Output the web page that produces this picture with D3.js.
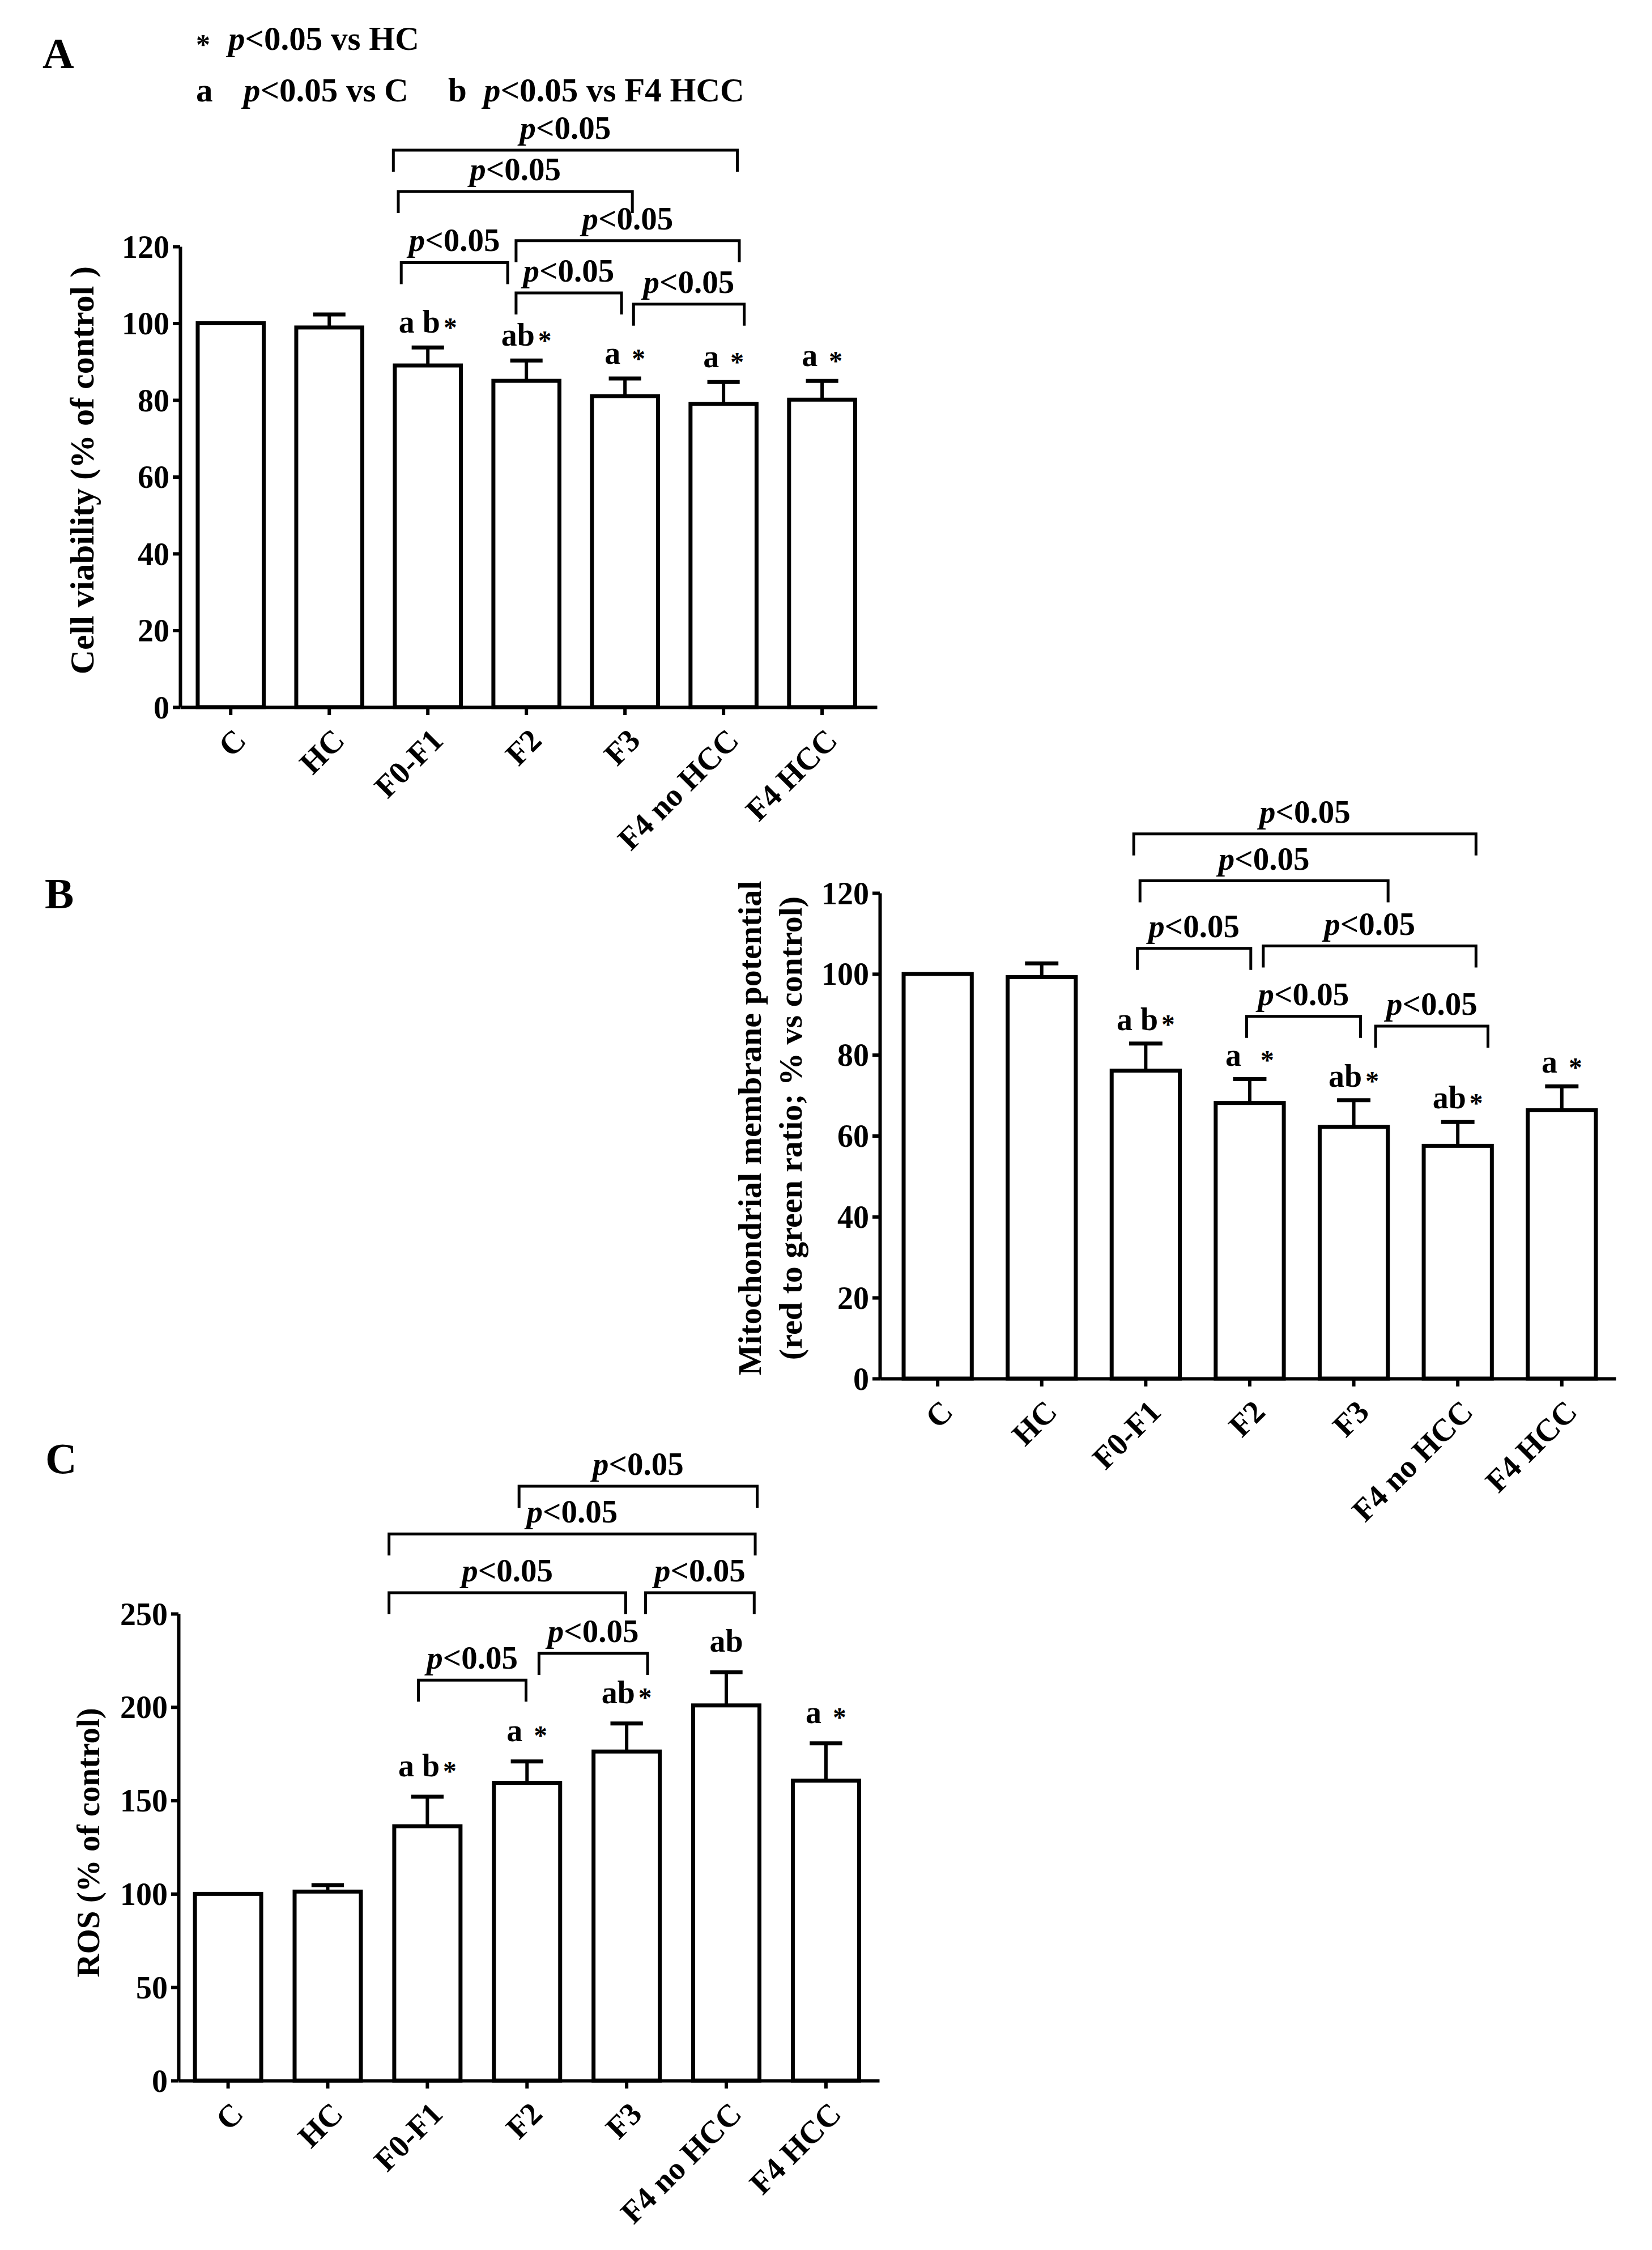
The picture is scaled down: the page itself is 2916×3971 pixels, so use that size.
<!DOCTYPE html>
<html>
<head>
<meta charset="utf-8">
<script src="https://cdn.jsdelivr.net/npm/d3@7"></script>
<style>
  body { margin: 0; background: #fff; }
  text { font-family: "Liberation Serif", "Times New Roman", serif; font-weight: bold; fill: #000; }
</style>
</head>
<body>
<div id="chart"></div>
<script>
// ---------------- data ----------------
const groups = ["C", "HC", "F0-F1", "F2", "F3", "F4 no HCC", "F4 HCC"];

// A: cell viability (% of control)
const viability    = [100, 98.9, 89.0, 85.0, 81.0, 79.0, 80.1];
const viabilityErr = [0, 3.4, 4.7, 5.3, 4.6, 5.7, 4.9];
const viabilityMarks = ["", "", "a b*", "ab*", "a *", "a *", "a *"];

// B: mitochondrial membrane potential
const mmp    = [100, 99.2, 76.1, 68.1, 62.2, 57.5, 66.3];
const mmpErr = [0, 3.4, 6.7, 5.9, 6.6, 5.9, 5.9];
const mmpMarks = ["", "", "a b*", "a  *", "ab*", "ab*", "a *"];

// C: ROS (% of control)
const ros    = [100, 101.2, 136.2, 159.4, 176.2, 200.9, 160.6];
const rosErr = [0, 3.5, 15.8, 11.5, 15.0, 17.7, 20.0];
const rosMarks = ["", "", "a b*", "a *", "ab*", "ab", "a *"];

// significance brackets: [from, to, level (axis units), nudge from / to (fraction of step)]
const viabilityBrackets = [
  ["F0-F1", "F4 no HCC", 145.1, -0.35, 0.14],
  ["F0-F1", "F3", 134.3, -0.30, 0.075],
  ["F2", "F4 no HCC", 121.5, -0.105, 0.16],
  ["F0-F1", "F2", 115.8, -0.27, -0.19],
  ["F2", "F3", 107.9, -0.105, -0.035],
  ["F3", "F4 no HCC", 105.0, 0.087, 0.21]
];
const mmpBrackets = [
  ["F0-F1", "F4 no HCC", 134.6, -0.115, 0.175],
  ["F0-F1", "F3", 123.0, -0.055, 0.33],
  ["F0-F1", "F2", 106.3, -0.08, 0.01],
  ["F2", "F4 no HCC", 106.9, 0.13, 0.175],
  ["F2", "F3", 89.5, -0.03, 0.065],
  ["F3", "F4 no HCC", 87.1, 0.21, 0.29]
];
const rosBrackets = [
  ["F2", "F4 no HCC", 318.3, -0.08, 0.31],
  ["F0-F1", "F4 no HCC", 292.7, -0.385, 0.29],
  ["F0-F1", "F3", 261.2, -0.385, -0.01],
  ["F3", "F4 no HCC", 261.2, 0.19, 0.28],
  ["F2", "F3", 228.8, 0.12, 0.21],
  ["F0-F1", "F2", 214.4, -0.09, -0.01]
];

const viabilityTicks = [0, 20, 40, 60, 80, 100, 120];
const mmpTicks = [0, 20, 40, 60, 80, 100, 120];
const rosTicks = [0, 50, 100, 150, 200, 250];

// ---------------- drawing ----------------
const W = 2916, H = 3971;
const svg = d3.select("#chart").append("svg")
  .attr("width", W)
  .attr("height", H)
  .attr("viewBox", [0, 0, W, H]);

svg.append("rect").attr("width", W).attr("height", H).attr("fill", "#fff");

// put a "p" in italics and the rest upright
function pText(sel, rest) {
  sel.append("tspan").attr("font-style", "italic").text("p");
  sel.append("tspan").text(rest);
}

// letters with a small lowered asterisk
function markText(sel, str) {
  const parts = str.split("*");
  sel.append("tspan").attr("xml:space", "preserve").text(parts[0]);
  if (parts.length > 1) {
    sel.append("tspan").attr("font-size", "0.85em").attr("dx", 6).attr("dy", "0.14em").text("*");
  }
}

function drawPanel(p) {
  const g = svg.append("g");

  const x = d3.scaleBand()
    .domain(groups)
    .range([p.left, p.right])
    .paddingInner(p.inner)
    .paddingOuter(p.outer)
    .align(p.align);

  const y = d3.scaleLinear()
    .domain([0, p.ticks[p.ticks.length - 1]])
    .range([p.bottom, p.top]);

  const bw = x.bandwidth();
  const cx = d => x(d) + bw / 2;

  // y axis
  const yAxis = g.append("g")
    .attr("transform", `translate(${p.left},0)`)
    .call(d3.axisLeft(y).tickValues(p.ticks).tickSize(13).tickSizeOuter(0).tickPadding(6));
  yAxis.attr("font-family", null);
  yAxis.select(".domain").attr("stroke-width", 6);
  yAxis.selectAll(".tick line").attr("stroke-width", 6);
  yAxis.selectAll(".tick text").attr("font-size", 56).attr("dy", "0.34em");

  // x axis
  const xAxis = g.append("g")
    .attr("transform", `translate(0,${p.bottom})`)
    .call(d3.axisBottom(x).tickSize(14).tickSizeOuter(0));
  xAxis.attr("font-family", null);
  xAxis.select(".domain").attr("stroke-width", 6);
  xAxis.selectAll(".tick line").attr("stroke-width", 6);
  xAxis.selectAll(".tick text")
    .attr("font-size", 56)
    .attr("y", null)
    .attr("dy", null)
    .attr("text-anchor", "end")
    .attr("transform", "translate(30,62) rotate(-45)");

  // bars
  g.append("g").selectAll("rect")
    .data(groups)
    .join("rect")
    .attr("x", d => x(d))
    .attr("y", (d, i) => y(p.values[i]))
    .attr("width", bw)
    .attr("height", (d, i) => y(0) - y(p.values[i]))
    .attr("fill", "#fff")
    .attr("stroke", "#000")
    .attr("stroke-width", 7);

  // error bars (upper only)
  const err = g.append("g").attr("stroke", "#000");
  groups.forEach((d, i) => {
    if (!p.errors[i]) return;
    const top = y(p.values[i] + p.errors[i]);
    err.append("line")
      .attr("x1", cx(d)).attr("x2", cx(d))
      .attr("y1", y(p.values[i])).attr("y2", top)
      .attr("stroke-width", 6);
    err.append("line")
      .attr("x1", cx(d) - bw * 0.245).attr("x2", cx(d) + bw * 0.245)
      .attr("y1", top).attr("y2", top)
      .attr("stroke-width", 7);
  });

  // letters above bars
  groups.forEach((d, i) => {
    if (!p.marks[i]) return;
    const t = g.append("text")
      .attr("x", cx(d))
      .attr("y", y(p.values[i] + p.errors[i]) - p.markGap)
      .attr("text-anchor", "middle")
      .attr("font-size", 56)
      .attr("xml:space", "preserve");
    markText(t, p.marks[i]);
  });

  // significance brackets
  const step = x.step();
  const leg = 38;
  p.brackets.forEach(b => {
    const x1 = cx(b[0]) + b[3] * step;
    const x2 = cx(b[1]) + b[4] * step;
    const yy = y(b[2]);
    g.append("path")
      .attr("d", `M${x1},${yy + leg}V${yy}H${x2}V${yy + leg}`)
      .attr("fill", "none")
      .attr("stroke", "#000")
      .attr("stroke-width", 5);
    const t = g.append("text")
      .attr("x", (x1 + x2) / 2)
      .attr("y", yy - 20)
      .attr("text-anchor", "middle")
      .attr("font-size", 57);
    pText(t, "<0.05");
  });

  // y-axis title
  p.title.forEach((line, k) => {
    g.append("text")
      .attr("transform", `translate(${p.titleX[k]},${p.titleY}) rotate(-90)`)
      .attr("text-anchor", "middle")
      .attr("font-size", p.titleSize)
      .text(line);
  });

  // panel letter
  g.append("text")
    .attr("x", p.letterX)
    .attr("y", p.letterY)
    .attr("font-size", 77)
    .text(p.letter);
}

drawPanel({
  letter: "A", letterX: 75, letterY: 120,
  values: viability, errors: viabilityErr, marks: viabilityMarks, brackets: viabilityBrackets,
  ticks: viabilityTicks,
  left: 318, right: 1548, top: 435, bottom: 1248,
  inner: 0.33, outer: 0.2, align: 0.445,
  markGap: 26,
  title: ["Cell viability (% of control )"], titleX: [165], titleY: 830, titleSize: 60
});

drawPanel({
  letter: "B", letterX: 79, letterY: 1603,
  values: mmp, errors: mmpErr, marks: mmpMarks, brackets: mmpBrackets,
  ticks: mmpTicks,
  left: 1553, right: 2852, top: 1576, bottom: 2433,
  inner: 0.345, outer: 0.21, align: 0.545,
  markGap: 24,
  title: ["Mitochondrial membrane potential", "(red to green ratio; % vs control)"],
  titleX: [1343, 1415], titleY: 1991, titleSize: 58
});

drawPanel({
  letter: "C", letterX: 80, letterY: 2600,
  values: ros, errors: rosErr, marks: rosMarks, brackets: rosBrackets,
  ticks: rosTicks,
  left: 315, right: 1552, top: 2848, bottom: 3672,
  inner: 0.335, outer: 0.184, align: 0.45,
  markGap: 36,
  title: ["ROS (% of control)"], titleX: [175], titleY: 3252, titleSize: 57
});

// legend for panel A
svg.append("text").attr("x", 346).attr("y", 88).attr("font-size", 50).attr("dy", "0.14em").text("*");
const l1 = svg.append("text").attr("x", 403).attr("y", 88).attr("font-size", 59);
pText(l1, "<0.05 vs HC");

svg.append("text").attr("x", 346).attr("y", 179).attr("font-size", 59).text("a");
const l2 = svg.append("text").attr("x", 430).attr("y", 179).attr("font-size", 59);
pText(l2, "<0.05 vs C");
svg.append("text").attr("x", 791).attr("y", 179).attr("font-size", 59).text("b");
const l3 = svg.append("text").attr("x", 854).attr("y", 179).attr("font-size", 59);
pText(l3, "<0.05 vs F4 HCC");
</script>
</body>
</html>
